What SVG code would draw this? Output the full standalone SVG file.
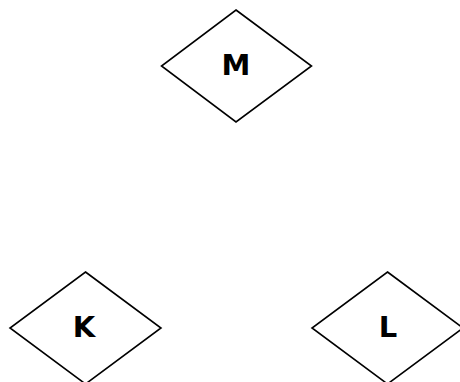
<svg xmlns="http://www.w3.org/2000/svg" width="460" height="382" viewBox="0 0 460 382">
<style>
.shape{fill:#fff;stroke:#000;stroke-width:1.6}
.lbl{font-family:"DejaVu Sans",Verdana,sans-serif;font-weight:bold;font-size:29px;fill:#000;text-anchor:middle}
</style>
<rect width="460" height="382" fill="#fff"/>
<g id="connectors"></g>
<g id="M"><polygon class="shape" points="236,10 311.5,66 236,122 161.5,66"/><text class="lbl" x="236" y="75">M</text></g>
<g id="K"><polygon class="shape" points="85.5,272 161,328 85.5,384 10,328"/><text class="lbl" x="84" y="337">K</text></g>
<g id="L"><polygon class="shape" points="387.5,272 463,328 387.5,384 312,328"/><text class="lbl" x="388" y="337">L</text></g>
</svg>
